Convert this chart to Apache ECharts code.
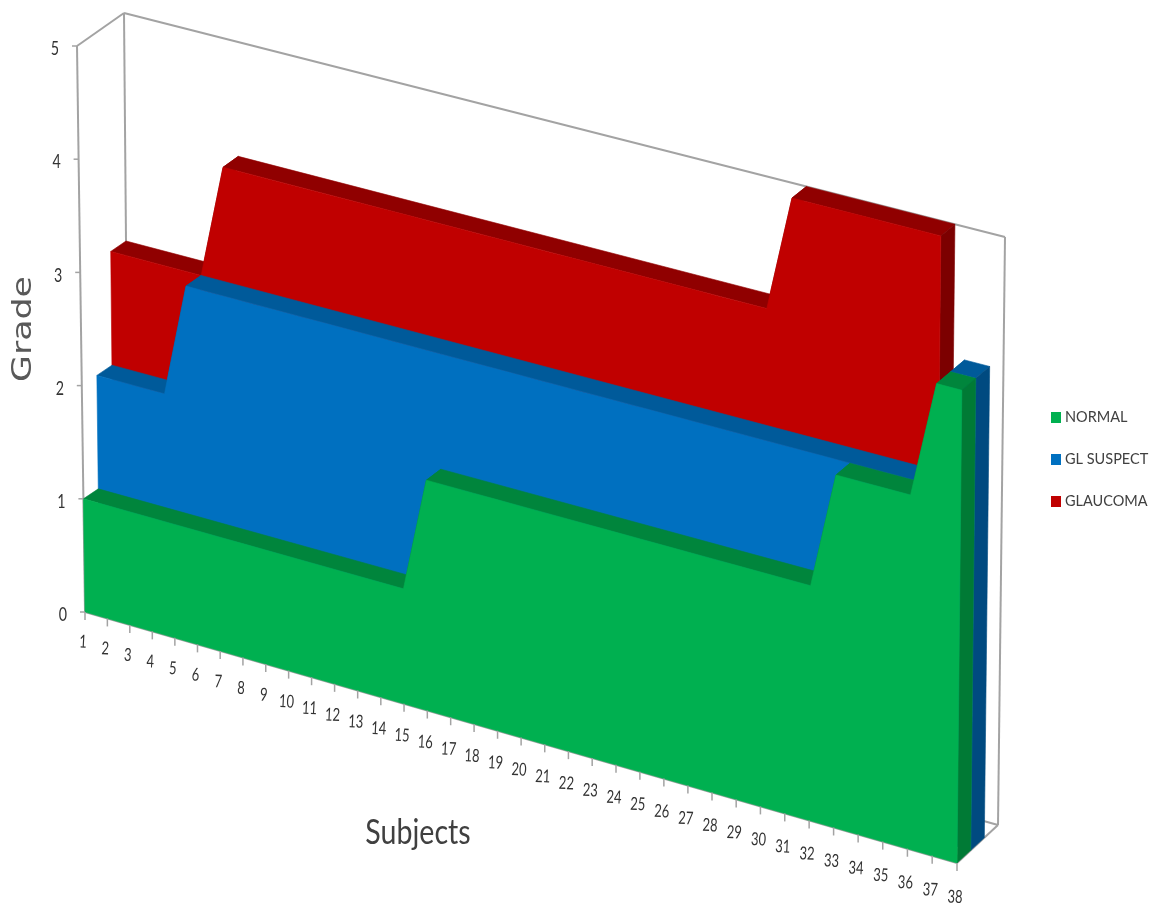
<!DOCTYPE html>
<html>
<head>
<meta charset="utf-8">
<style>html,body{margin:0;padding:0;background:#fff}#chart{width:1162px;height:907px}</style>
<script src="https://cdn.jsdelivr.net/npm/echarts@6/dist/echarts.min.js"></script>
</head>
<body>
<div id="chart"></div>
<script>
const subjects = ['1','2','3','4','5','6','7','8','9','10','11','12','13','14','15','16','17','18','19',
  '20','21','22','23','24','25','26','27','28','29','30','31','32','33','34','35','36','37','38'];
const gradeTicks = [0, 1, 2, 3, 4, 5];
const normalGrades = [1,1,1,1,1,1,1,1,1,1,1,1,1,1,1,2,2,2,2,2,2,2,2,2,2,2,2,2,2,2,2,2,3,3,3,3,4,4];
const suspectGrades = [2,2,2,2,3,3,3,3,3,3,3,3,3,3,3,3,3,3,3,3,3,3,3,3,3,3,3,3,3,3,3,3,3,3,3,3,4,4];
// the glaucoma area stops at subject 36
const glaucomaGrades = [3,3,3,3,3,4,4,4,4,4,4,4,4,4,4,4,4,4,4,4,4,4,4,4,4,4,4,4,4,5,5,5,5,5,5,5];

// corners of the 3D box on screen: front/back, bottom/top, left/right
const box = {
  fbl: [85, 612], ftl: [77, 46], fbr: [957, 863], ftr: [963, 272],
  bbl: [129, 583], btl: [124, 13], bbr: [998, 825], btr: [1005, 237],
};
const foreshorten = 0.055;
const lerp = (a, b, k) => [a[0] + (b[0] - a[0]) * k, a[1] + (b[1] - a[1]) * k];

// u along subjects, w up the grade axis, d into the depth, all 0..1
function project(u, w, d) {
  const t = u / (1 + foreshorten * (1 - u));
  const front = lerp(lerp(box.fbl, box.fbr, t), lerp(box.ftl, box.ftr, t), w);
  const back = lerp(lerp(box.bbl, box.bbr, t), lerp(box.btl, box.btr, t), w);
  return lerp(front, back, d);
}

// goes from the hidden flat grid to the box, so the axis scales still do the mapping
function place(api, params, i, v, d) {
  const p = api.coord([i, v]);
  const cs = params.coordSys;
  return project((p[0] - cs.x) / cs.width, (cs.y + cs.height - p[1]) / cs.height, d);
}

function poly(points, color, z2) {
  return {
    type: 'polygon', z2, shape: { points },
    style: { fill: color, stroke: color, lineWidth: 0.6 },
  };
}

function areaSeries(name, grades, slot, colors, z) {
  const d0 = slot / 3, d1 = (slot + 1) / 3;
  const last = grades.length - 1;
  return {
    name, type: 'custom', z, silent: true,
    coordinateSystem: 'cartesian2d',
    itemStyle: { color: colors.front },
    encode: { x: 0, y: 1 },
    data: grades.map((g, i) => [i, g]),
    renderItem(params, api) {
      // whole area is built once, on the last point, one polygon avoids seams
      if (params.dataIndex !== last) return null;
      const at = (x, y, d) => place(api, params, x, y, d);
      const children = [];
      // top band: one polygon per run of equal grades, plus the rises between them
      let start = 0;
      for (let i = 1; i <= last; i++) {
        if (i === last || grades[i] !== grades[start]) {
          const end = grades[i] === grades[start] ? i : i - 1;
          const g = grades[start];
          children.push(poly([at(start, g, d0), at(end, g, d0), at(end, g, d1), at(start, g, d1)], colors.top, 1));
          if (end !== i) {
            children.push(poly([at(end, g, d0), at(i, grades[i], d0), at(i, grades[i], d1), at(end, g, d1)], colors.top, 1));
          }
          start = i;
        }
      }
      children.push(poly([at(last, 0, d0), at(last, 0, d1), at(last, grades[last], d1), at(last, grades[last], d0)], colors.side, 2));
      const outline = [at(0, 0, d0), at(last, 0, d0)];
      for (let i = last; i >= 0; i--) outline.push(at(i, grades[i], d0));
      children.push(poly(outline, colors.front, 3));
      return { type: 'group', children };
    },
  };
}

function edge(a, b, width) {
  return {
    type: 'line',
    shape: { x1: a[0], y1: a[1], x2: b[0], y2: b[1] },
    style: { stroke: '#a3a3a3', lineWidth: width },
  };
}

const option = {
  animation: false,
  backgroundColor: '#fff',
  grid: { left: 100, top: 100, width: 800, height: 500 },
  xAxis: { type: 'category', data: subjects, boundaryGap: false, show: false },
  yAxis: { type: 'value', min: 0, max: 5, interval: 1, show: false },
  legend: {
    orient: 'vertical', left: 1046, top: 405,
    itemWidth: 10, itemHeight: 11, itemGap: 27, icon: 'rect',
    selectedMode: false,
    data: ['NORMAL', 'GL SUSPECT', 'GLAUCOMA'],
    textStyle: { fontFamily: 'Lato', fontSize: 14.5, color: '#404040', padding: [0, 0, 0, -1] },
  },
  graphic: [
    {
      type: 'text', x: 24, y: 329, rotation: Math.PI / 2, scaleX: 1.12, scaleY: 0.85,
      style: { text: 'Grade', font: '31px "DejaVu Sans"', fill: '#595959', align: 'center', verticalAlign: 'middle' },
    },
    {
      type: 'text', x: 418, y: 833, scaleX: 0.84,
      style: { text: 'Subjects', font: '34px Lato', fill: '#404040', align: 'center', verticalAlign: 'middle' },
    },
  ],
  series: [
    // box frame behind the areas
    {
      type: 'custom', z: 1, silent: true, data: [[0, 0]],
      coordinateSystem: 'cartesian2d',
      renderItem() {
        return {
          type: 'group',
          children: [
            edge(box.fbl, box.ftl, 2), edge(box.ftl, box.btl, 2), edge(box.btl, box.btr, 2),
            edge(box.btl, box.bbl, 2), edge(box.btr, box.bbr, 2), edge(box.bbl, box.bbr, 2),
            edge(box.fbr, box.bbr, 2), edge(box.fbl, box.fbr, 2),
          ],
        };
      },
    },
    areaSeries('NORMAL', normalGrades, 0, { front: '#00b050', top: '#00853c', side: '#007a35' }, 5),
    areaSeries('GL SUSPECT', suspectGrades, 1, { front: '#0070c0', top: '#005a9a', side: '#004a80' }, 4),
    areaSeries('GLAUCOMA', glaucomaGrades, 2, { front: '#c00000', top: '#900000', side: '#7c0000' }, 3),
    // subject ticks and labels
    {
      type: 'custom', z: 6, silent: true,
      coordinateSystem: 'cartesian2d',
      data: subjects.map((s, i) => [i, 0]),
      renderItem(params, api) {
        const i = api.value(0);
        const p = place(api, params, i, 0, 0);
        return {
          type: 'group',
          children: [
            {
              type: 'line',
              shape: { x1: p[0], y1: p[1], x2: p[0], y2: p[1] + 8 },
              style: { stroke: '#a3a3a3', lineWidth: 1.5 },
            },
            {
              type: 'text', x: p[0] - 2, y: p[1] + 30 + 4 * i / 37, rotation: -0.05, scaleX: 0.72,
              style: {
                text: subjects[i], font: '18px Lato', fill: '#333',
                align: 'center', verticalAlign: 'middle',
              },
            },
          ],
        };
      },
    },
    // grade ticks and labels
    {
      type: 'custom', z: 6, silent: true,
      coordinateSystem: 'cartesian2d',
      data: gradeTicks.map((g) => [0, g]),
      renderItem(params, api) {
        const g = api.value(1);
        const p = place(api, params, 0, g, 0);
        return {
          type: 'group',
          children: [
            {
              type: 'line',
              shape: { x1: p[0] - 5, y1: p[1], x2: p[0], y2: p[1] },
              style: { stroke: '#a3a3a3', lineWidth: 1.5 },
            },
            {
              type: 'text', x: p[0] - 22, y: p[1] + 3, scaleX: 0.75,
              style: { text: String(gradeTicks[params.dataIndex]), font: '19px Lato', fill: '#333', align: 'center', verticalAlign: 'middle' },
            },
          ],
        };
      },
    },
  ],
};

const chart = echarts.init(document.getElementById('chart'), null, { renderer: 'canvas' });
chart.setOption(option);
</script>
</body>
</html>
